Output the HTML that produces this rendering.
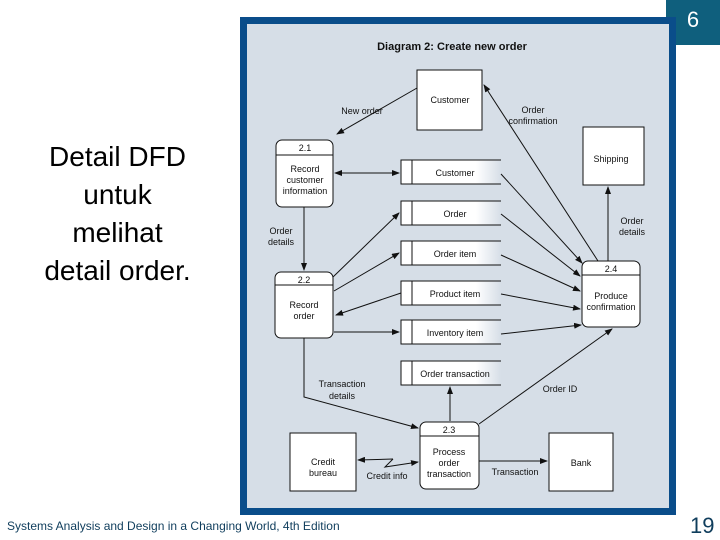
<!DOCTYPE html>
<html><head><meta charset="utf-8"><style>
body{margin:0;width:720px;height:540px;background:#fff;position:relative;overflow:hidden;font-family:"Liberation Sans",sans-serif}
.num{position:absolute;left:666px;top:0;width:54px;height:45px;background:#0f5f7d;color:#fff;font-size:22px;text-align:center;line-height:40px}
.frame{position:absolute;left:240px;top:17px;width:422px;height:484px;border:7px solid #0a4d8a;border-right-width:7px;background:#d6dee7}
.left{position:absolute;left:20px;top:138px;width:195px;text-align:center;font-size:28px;line-height:38px;color:#000}
.foot{position:absolute;left:7px;top:519px;font-size:12px;color:#0f3d5c}
.pg{position:absolute;left:690px;top:513px;font-size:22px;color:#0f3d5c}
</style></head><body>
<div class="num">6</div>
<div class="frame"></div>
<div class="left">Detail DFD<br>untuk<br>melihat<br>detail order.</div>
<div class="foot">Systems Analysis and Design in a Changing World, 4th Edition</div>
<div class="pg">19</div>
<svg width="720" height="540" style="position:absolute;left:0;top:0" font-family="Liberation Sans, sans-serif" font-size="9" fill="#111">
<defs>
<marker id="a" markerWidth="8" markerHeight="6" refX="7" refY="3" orient="auto" markerUnits="userSpaceOnUse"><path d="M0,0 L8,3 L0,6 z" fill="#111"/></marker>
<marker id="s" markerWidth="8" markerHeight="6" refX="1" refY="3" orient="auto" markerUnits="userSpaceOnUse"><path d="M8,0 L0,3 L8,6 z" fill="#111"/></marker>
<linearGradient id="g" x1="0" x2="1"><stop offset="0.75" stop-color="#fff"/><stop offset="1" stop-color="#d6dee7"/></linearGradient>
</defs>
<text x="452" y="50" text-anchor="middle" font-weight="bold" font-size="11">Diagram 2: Create new order</text>
<g stroke="#111" stroke-width="1" fill="#fff">
<rect x="417" y="70" width="65" height="60"/>
<rect x="583" y="127" width="61" height="58"/>
<rect x="290" y="433" width="66" height="58"/>
<rect x="549" y="433" width="64" height="58"/>
<rect x="276" y="140" width="57" height="67" rx="6"/><line x1="276" y1="155" x2="333" y2="155"/>
<rect x="275" y="272" width="58" height="66" rx="6"/><line x1="275" y1="285" x2="333" y2="285"/>
<rect x="582" y="261" width="58" height="66" rx="6"/><line x1="582" y1="275" x2="640" y2="275"/>
<rect x="420" y="422" width="59" height="67" rx="6"/><line x1="420" y1="436" x2="479" y2="436"/>
</g>
<g stroke="#111" stroke-width="1">
<rect x="401" y="160" width="100" height="24" fill="url(#g)" stroke="none"/><path d="M501,160 H401 V184 H501 M412,160 V184" fill="none"/>
<rect x="401" y="201" width="100" height="24" fill="url(#g)" stroke="none"/><path d="M501,201 H401 V225 H501 M412,201 V225" fill="none"/>
<rect x="401" y="241" width="100" height="24" fill="url(#g)" stroke="none"/><path d="M501,241 H401 V265 H501 M412,241 V265" fill="none"/>
<rect x="401" y="281" width="100" height="24" fill="url(#g)" stroke="none"/><path d="M501,281 H401 V305 H501 M412,281 V305" fill="none"/>
<rect x="401" y="320" width="100" height="24" fill="url(#g)" stroke="none"/><path d="M501,320 H401 V344 H501 M412,320 V344" fill="none"/>
<rect x="401" y="361" width="100" height="24" fill="url(#g)" stroke="none"/><path d="M501,361 H401 V385 H501 M412,361 V385" fill="none"/>
</g>
<g text-anchor="middle">
<text x="450" y="103">Customer</text>
<text x="611" y="162">Shipping</text>
<text x="323" y="465">Credit</text><text x="323" y="476">bureau</text>
<text x="581" y="466">Bank</text>
<text x="305" y="151">2.1</text><text x="305" y="172">Record</text><text x="305" y="183">customer</text><text x="305" y="194">information</text>
<text x="304" y="283">2.2</text><text x="304" y="308">Record</text><text x="304" y="319">order</text>
<text x="611" y="272">2.4</text><text x="611" y="299">Produce</text><text x="611" y="310">confirmation</text>
<text x="449" y="433">2.3</text><text x="449" y="455">Process</text><text x="449" y="466">order</text><text x="449" y="477">transaction</text>
<text x="455" y="176">Customer</text>
<text x="455" y="217">Order</text>
<text x="455" y="257">Order item</text>
<text x="455" y="297">Product item</text>
<text x="455" y="336">Inventory item</text>
<text x="455" y="377">Order transaction</text>
<text x="362" y="114">New order</text>
<text x="533" y="113">Order</text><text x="533" y="124">confirmation</text>
<text x="632" y="224">Order</text><text x="632" y="235">details</text>
<text x="281" y="234">Order</text><text x="281" y="245">details</text>
<text x="342" y="387">Transaction</text><text x="342" y="399">details</text>
<text x="560" y="392">Order ID</text>
<text x="515" y="475">Transaction</text>
<text x="387" y="479">Credit info</text>
</g>
<g stroke="#111" stroke-width="1" fill="none" marker-end="url(#a)">
<line x1="417" y1="88" x2="337" y2="134"/>
<line x1="598" y1="261" x2="484" y2="85"/>
<line x1="608" y1="261" x2="608" y2="187"/>
<line x1="335" y1="173" x2="399" y2="173" marker-start="url(#s)"/>
<line x1="304" y1="207" x2="304" y2="270"/>
<line x1="333" y1="277" x2="399" y2="213"/>
<line x1="334" y1="291" x2="399" y2="253"/>
<line x1="401" y1="293" x2="336" y2="315"/>
<line x1="334" y1="332" x2="399" y2="332"/>
<polyline points="304,338 304,397 418,428"/>
<line x1="450" y1="421" x2="450" y2="387"/>
<line x1="479" y1="424" x2="612" y2="329"/>
<line x1="479" y1="461" x2="547" y2="461"/>
<polyline points="393,459 385,467 418,462" />
<line x1="393" y1="459" x2="358" y2="460"/>
<line x1="501" y1="174" x2="582" y2="263"/>
<line x1="501" y1="214" x2="580" y2="276"/>
<line x1="501" y1="255" x2="580" y2="291"/>
<line x1="501" y1="294" x2="580" y2="309"/>
<line x1="501" y1="334" x2="581" y2="325"/>
</g>
</svg>
</body></html>
